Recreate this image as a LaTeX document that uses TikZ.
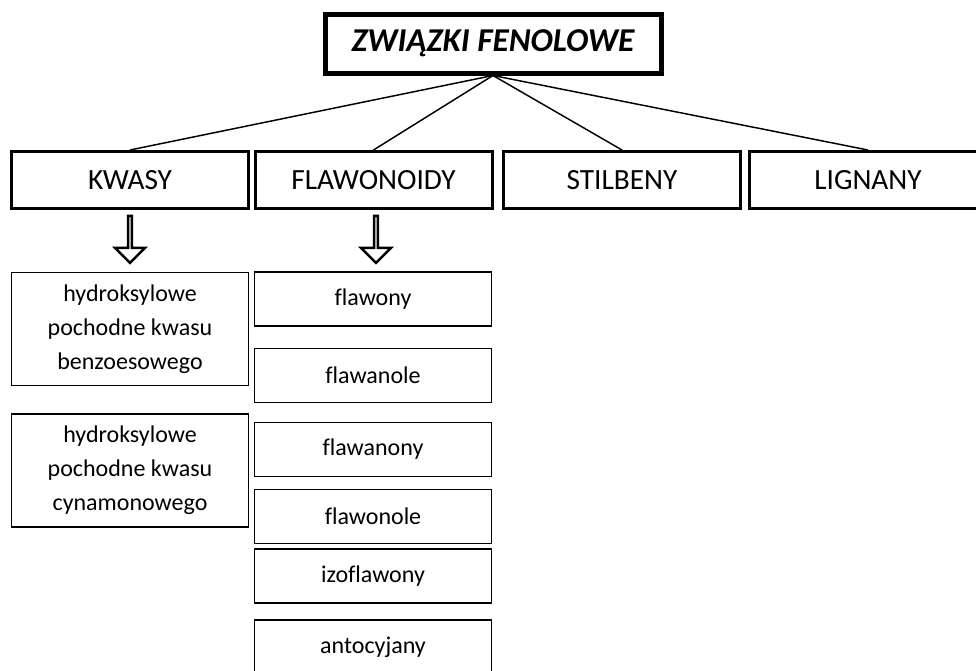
\documentclass[tikz,border=0pt]{standalone}
\usepackage{fontspec}
\setmainfont{Carlito}[Ligatures=CommonOff]
\usetikzlibrary{shapes.arrows}
\begin{document}
\begin{tikzpicture}[x=0.75pt,y=-0.75pt,
    every node/.style={inner sep=0pt,align=center},
    grupa/.style={draw,line width=2.25pt,minimum width=177.75pt,minimum height=42.75pt,
        font=\fontsize{22}{26}\selectfont},
    podgrupa/.style={draw,line width=1.1pt,minimum width=178pt,
        font=\fontsize{18}{25.5}\selectfont},
    strzalka/.style={draw,line width=1.8pt,single arrow,rotate=-90,
        minimum height=35.25pt,minimum width=22.5pt,
        single arrow head extend=6.5pt,single arrow tip angle=90,
        single arrow head indent=0pt}]
    \clip (0,0) rectangle (976,671);
    \node[draw,line width=3.75pt,minimum width=252pt,minimum height=44.25pt,
        font=\fontsize{25}{29}\selectfont\bfseries\itshape] (tytul) at (493,43.5)
        {ZWIĄZKI FENOLOWE};
    \node[grupa] (kwasy) at (130,180) {KWASY};
    \node[grupa] (flaw) at (373.5,180) {FLAWONOIDY};
    \node[grupa] (stil) at (622,180) {STILBENY};
    \node[grupa] (lign) at (868,180) {LIGNANY};
    \foreach \b in {kwasy,flaw,stil,lign}
        \draw[line width=1.1pt] (tytul.south) -- (\b.north);
    \node[strzalka] (strk) at (130,238.5) {};
    \node[strzalka] (strf) at (376,238.5) {};
    \node[podgrupa,minimum height=84.75pt] (benz) at (130,329)
        {hydroksylowe\\pochodne kwasu\\benzoesowego};
    \node[podgrupa,minimum height=84.75pt] (cyna) at (130,470.5)
        {hydroksylowe\\pochodne kwasu\\cynamonowego};
    \foreach \nm/\yy in {flawony/299,flawanole/375.5,flawanony/449.5,
        flawonole/516.5,izoflawony/576,antocyjany/647}
        \node[podgrupa,minimum height=40.5pt] (\nm) at (373,\yy) {\nm};
\end{tikzpicture}
\end{document}
